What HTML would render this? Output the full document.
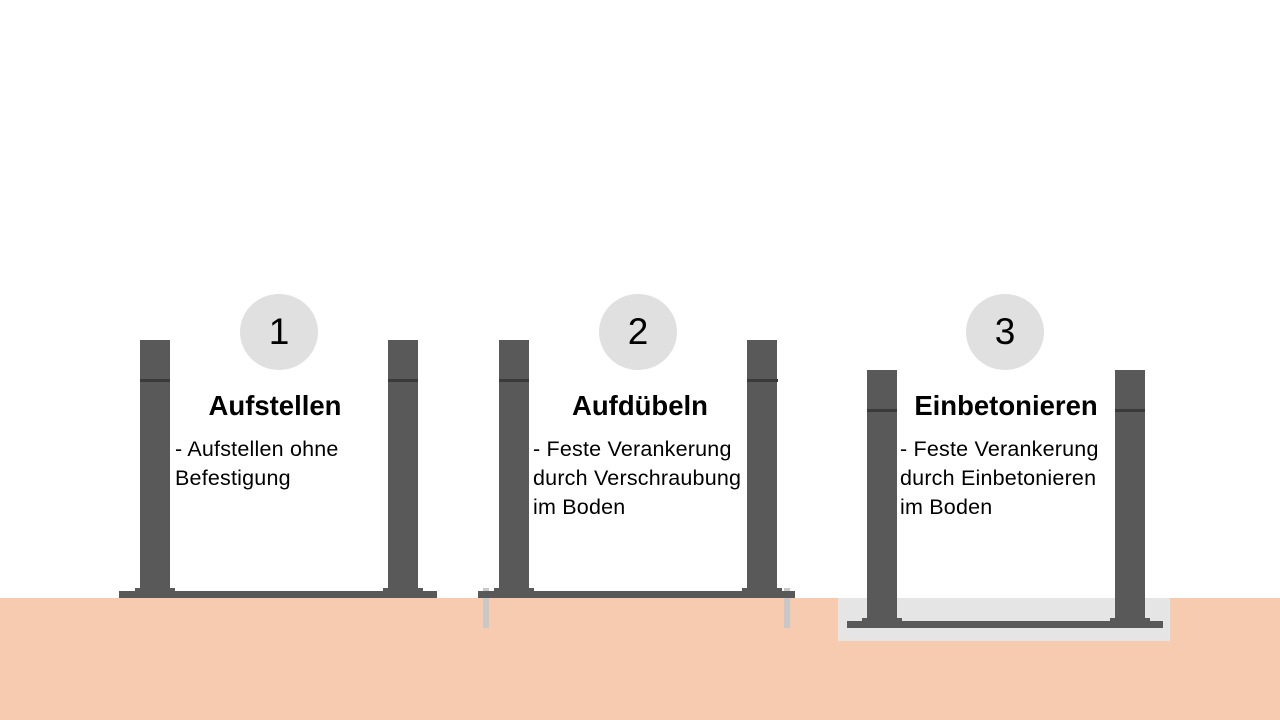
<!DOCTYPE html>
<html><head><meta charset="utf-8"><style>
body{margin:0;width:1280px;height:720px;background:#fff;position:relative;overflow:hidden;font-family:"Liberation Sans",sans-serif;color:#000}
div{position:absolute;box-sizing:border-box}
.g{background:#595959}
.s{background:#3a3a3a;height:3px}
.c{background:#e0e0e0;border-radius:50%;width:78px;height:76px;font-size:37px;text-align:center;line-height:76px}
.t{font-weight:bold;font-size:27.5px;white-space:nowrap;text-align:center;width:300px}
.b{font-size:21.5px;line-height:29px;white-space:nowrap;letter-spacing:0.2px}
</style></head><body>
<div style="left:0;top:598px;width:1280px;height:122px;background:#f7cbaf"></div>
<div style="left:838px;top:598px;width:332px;height:43px;background:#e5e5e5"></div>

<!-- fig 1 -->
<div class="g" style="left:119px;top:591px;width:318px;height:7px"></div>
<div class="g" style="left:135px;top:588px;width:40px;height:4px"></div>
<div class="g" style="left:383px;top:588px;width:40px;height:4px"></div>
<div class="g" style="left:140px;top:340px;width:30px;height:252px"></div>
<div class="g" style="left:388px;top:340px;width:30px;height:252px"></div>
<div class="s" style="left:140px;top:379px;width:30px"></div>
<div class="s" style="left:388px;top:379px;width:30px"></div>
<div class="c" style="left:240px;top:294px">1</div>
<div class="t" style="left:125px;top:390px">Aufstellen</div>
<div class="b" style="left:175px;top:435px">- Aufstellen ohne<br>Befestigung</div>

<!-- fig 2 -->
<div style="left:483px;top:588px;width:6px;height:40px;background:#c8c8c8"></div>
<div style="left:784px;top:588px;width:6px;height:40px;background:#c8c8c8"></div>
<div class="g" style="left:478px;top:591px;width:317px;height:7px"></div>
<div class="g" style="left:494px;top:588px;width:40px;height:4px"></div>
<div class="g" style="left:742px;top:588px;width:40px;height:4px"></div>
<div class="g" style="left:499px;top:340px;width:30px;height:252px"></div>
<div class="g" style="left:747px;top:340px;width:30px;height:252px"></div>
<div class="s" style="left:499px;top:379px;width:30px"></div>
<div class="s" style="left:747px;top:379px;width:31px"></div>
<div class="c" style="left:599px;top:294px">2</div>
<div class="t" style="left:490px;top:390px">Aufdübeln</div>
<div class="b" style="left:533px;top:435px">- Feste Verankerung<br>durch Verschraubung<br>im Boden</div>

<!-- fig 3 -->
<div class="g" style="left:847px;top:621px;width:316px;height:7px"></div>
<div class="g" style="left:862px;top:618px;width:40px;height:4px"></div>
<div class="g" style="left:1110px;top:618px;width:40px;height:4px"></div>
<div class="g" style="left:867px;top:370px;width:30px;height:252px"></div>
<div class="g" style="left:1115px;top:370px;width:30px;height:252px"></div>
<div class="s" style="left:867px;top:409px;width:30px"></div>
<div class="s" style="left:1115px;top:409px;width:30px"></div>
<div class="c" style="left:966px;top:294px">3</div>
<div class="t" style="left:856px;top:390px">Einbetonieren</div>
<div class="b" style="left:900px;top:435px">- Feste Verankerung<br>durch Einbetonieren<br>im Boden</div>
</body></html>
